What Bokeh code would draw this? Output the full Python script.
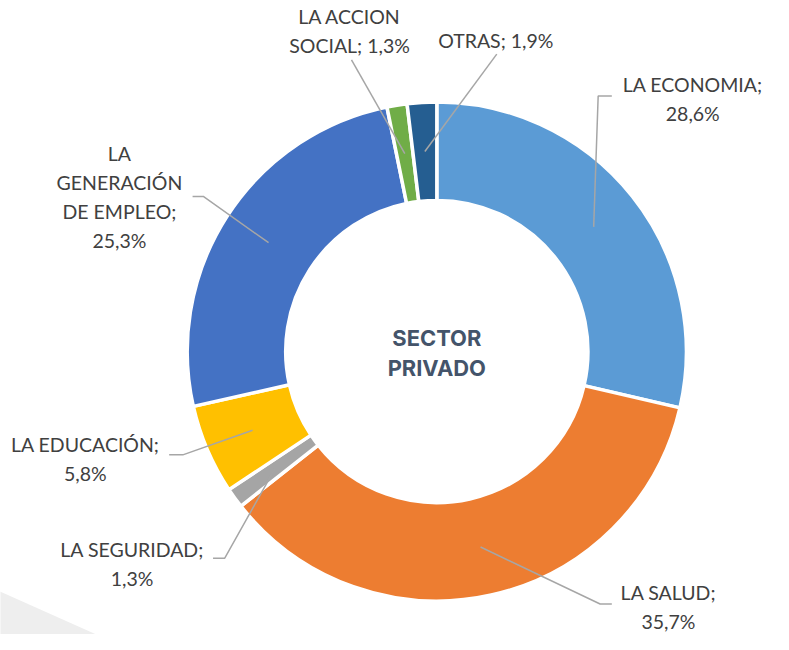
import math
from bokeh.plotting import figure
from bokeh.models import Range1d, ColumnDataSource
from bokeh.core.properties import value
from bokeh.embed import file_html
from bokeh.resources import INLINE

# ---- data ----
categories = ["LA ECONOMIA", "LA SALUD", "LA SEGURIDAD", "LA EDUCACIÓN",
              "LA GENERACIÓN DE EMPLEO", "LA ACCION SOCIAL", "OTRAS"]
values = [28.6, 35.7, 1.3, 5.8, 25.3, 1.3, 1.9]
colors = ["#5B9BD5", "#ED7D31", "#A5A5A5", "#FFC000", "#4472C4", "#70AD47", "#255E91"]
center_title = ["SECTOR", "PRIVADO"]

# ---- layout (reference-image pixel coordinates) ----
W, H = 773, 634
S = 0.975          # overall scale so the whole reference fits the figure
CX, CY = 447.5, 361.0
R_OUT, R_IN = 256.0, 155.0
word_groups = [[2, 1], [2, 1], [2, 1], [2, 1], [1, 1, 2, 1], [2, 2], [2]]
label_pos = [(710, 87), (685, 608), (135, 564), (87, 456), (122, 158), (358, 17), (508, 42)]
line_step = 29.7
leader_pts = [
    [(613, 99), (627, 99)],
    [(615, 620), (627, 620)],
    [(230, 573), (218, 573)],
    [(187, 467), (173, 467)],
    [(208, 202), (197, 202)],
    [(360, 62)],
    [(509, 56)],
]


def Y(py):
    return 650 - py


p = figure(width=W, height=H, output_backend="svg", toolbar_location=None,
           x_range=Range1d(0, W / S), y_range=Range1d(Y(1 + H / S), Y(1)),
           min_border=0)
p.axis.visible = False
p.grid.visible = False
p.outline_line_color = None
p.background_fill_color = "white"
p.border_fill_color = "white"

# background decoration
p.patch(x=[-10, 100, -10], y=[Y(603), Y(652), Y(652)], fill_color="#EEEEEE", line_color=None)

# donut
total = sum(values)
starts, ends, mids = [], [], []
cum = 0.0
for v in values:
    a0 = math.pi / 2 - 2 * math.pi * cum / total
    cum += v
    a1 = math.pi / 2 - 2 * math.pi * cum / total
    starts.append(a0)
    ends.append(a1)
    mids.append((a0 + a1) / 2)

src = ColumnDataSource(dict(start=starts, end=ends, color=colors))
p.annular_wedge(x=CX, y=Y(CY), inner_radius=R_IN, outer_radius=R_OUT,
                start_angle="start", end_angle="end", direction="clock",
                fill_color="color", line_color="white", line_width=3.5, source=src)

# leader lines
r_mid = (R_IN + R_OUT) / 2
xs, ys = [], []
for m, pts in zip(mids, leader_pts):
    x0 = CX + r_mid * math.cos(m)
    y0 = Y(CY) + r_mid * math.sin(m)
    xs.append([x0] + [q[0] for q in pts])
    ys.append([y0] + [Y(q[1]) for q in pts])
p.multi_line(xs=xs, ys=ys, line_color="#A6A6A6", line_width=1.5)

# labels
def fmt(v):
    return f"{v:.1f}".replace(".", ",") + "%"

tx, ty, tt = [], [], []
for c, v, groups, (lx, ly) in zip(categories, values, word_groups, label_pos):
    words = f"{c}; {fmt(v)}".split(" ")
    i = 0
    for k, g in enumerate(groups):
        tt.append(" ".join(words[i:i + g]))
        i += g
        tx.append(lx)
        ty.append(Y(ly + k * line_step))

p.text(x=tx, y=ty, text=tt, text_align="center", text_baseline="middle",
       text_font=value("Lato"), text_font_size=value(f"{20 * S:.1f}px"), text_color="#404040")

# center title
p.text(x=[CX, CX], y=[Y(347), Y(378)], text=center_title, text_align="center",
       text_baseline="middle", text_font=value("Inter"), text_font_style="bold",
       text_font_size=value(f"{22.5 * S:.1f}px"), text_color="#44546A")

open("out.html", "w").write(file_html(p, INLINE))
